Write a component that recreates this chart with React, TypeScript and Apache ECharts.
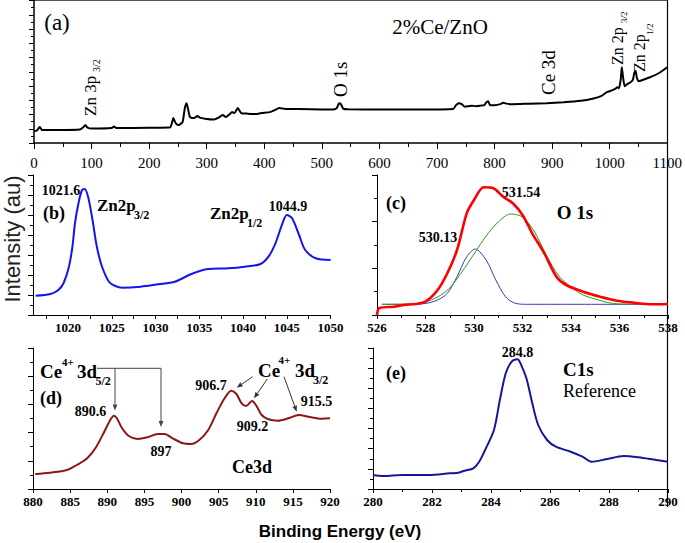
import React, { useEffect, useRef } from "react";
import * as echarts from "echarts";

// (a) survey spectrum
const surveyBE = [0, 5, 10, 14, 40, 80, 86, 89, 93, 100, 135, 139, 143, 200, 236, 240, 242, 246, 251, 258, 262, 265, 268, 271, 278, 284, 288, 300, 312, 322, 328, 333, 340, 344, 348, 354, 360, 370, 385, 395, 410, 418, 426, 433, 441, 460, 500, 520, 526, 530, 533, 537, 545, 600, 650, 700, 728, 733, 738, 743, 748, 760, 768, 776, 782, 786, 789, 792, 800, 810, 815, 820, 830, 860, 890, 920, 950, 970, 985, 995, 1005, 1010, 1013, 1016, 1019, 1021, 1023, 1026, 1030, 1035, 1040, 1043, 1045, 1047, 1050, 1056, 1070, 1085, 1100];
const surveyI = [12, 12.5, 16, 13, 13, 13.5, 16, 18, 15.5, 14.5, 15, 16.5, 15, 15.3, 15.5, 21, 25, 20, 18, 21, 35, 40, 33, 26, 25, 27, 25.5, 24, 23.5, 26, 28, 26, 29, 31, 30, 35, 30, 29.5, 29, 30, 31, 33, 35, 34.5, 34, 34, 33.7, 33.5, 35, 40, 39, 34.5, 33.8, 33.7, 33.5, 33.7, 34, 38, 40, 39, 36.5, 37.5, 37, 37.5, 38, 41, 42, 38, 38, 39, 40.5, 39.5, 39, 39.5, 40, 41, 42.5, 44.5, 47, 51, 53, 54.5, 56, 55, 63, 76, 67, 57, 59, 60.5, 63, 71, 72, 66, 62, 63, 66, 70, 76];

// (b) Zn 2p
const znBE = [1016.3, 1018.0, 1018.9, 1019.5, 1020.1, 1020.5, 1020.8, 1021.2, 1021.6, 1021.9, 1022.3, 1022.8, 1023.3, 1023.9, 1024.7, 1025.4, 1026.2, 1028.3, 1030.3, 1032.2, 1034.1, 1036.0, 1038.3, 1040.2, 1042.0, 1042.9, 1043.7, 1044.5, 1045.0, 1045.6, 1046.4, 1047.1, 1048.3, 1050];
const znI = [19.3, 21, 25, 32, 48, 68, 92, 112, 125, 126, 118, 95, 68, 48, 33, 29, 27.3, 28.3, 30.7, 33.3, 41, 46, 46.7, 48.3, 51, 58.3, 71.7, 91.7, 100, 96.7, 80, 65, 56.7, 55];

// (c) O 1s: measured, and the two fitted components
const oBE = [526.0, 526.1, 526.7, 527.1, 527.6, 528.0, 528.5, 528.9, 529.3, 529.7, 530.0, 530.4, 530.8, 531.2, 531.6, 532.0, 532.4, 532.9, 533.4, 533.8, 534.5, 535.2, 535.9, 536.6, 537.3, 538.0];
const oI = [0, 7, 8.3, 10, 11, 13.3, 25, 41.7, 65, 101.7, 115, 127.7, 126.7, 118.3, 111.7, 100, 81.7, 61.7, 38.3, 30, 23.3, 18.3, 14.3, 12.3, 10.7, 11];
const oFit1BE = [526.2, 527.5, 528.0, 528.5, 528.9, 529.3, 529.7, 530.05, 530.5, 530.9, 531.3, 531.7, 532.2, 538.0];
const oFit1I = [10.7, 10.7, 11.5, 15, 21.7, 38.3, 58.3, 66, 55, 35, 18.3, 11.7, 10.7, 10.7];
const oFit2BE = [526.2, 527.5, 528.0, 528.5, 529.0, 529.5, 530.0, 530.5, 531.0, 531.5, 532.0, 532.5, 533.0, 533.5, 534.0, 534.5, 535.0, 535.5, 536.0, 538.0];
const oFit2I = [10.7, 11, 13, 18, 27, 43, 61, 79, 93, 101, 98, 83, 59, 39, 28, 20, 16, 12.5, 11, 10.7];

// (d) Ce 3d
const ceBE = [880.3, 882.3, 884.6, 885.9, 887.3, 888.4, 889.5, 890.4, 890.9, 891.3, 892.0, 892.9, 894.1, 895.4, 896.8, 897.7, 898.8, 900.2, 901.3, 902.4, 903.6, 904.7, 905.8, 906.7, 907.4, 908.1, 908.7, 909.5, 910.1, 910.8, 911.7, 913.0, 914.4, 915.8, 917.1, 918.9, 920];
const ceI = [15, 16.3, 19, 24, 30.7, 40.7, 55.7, 69, 73.3, 70.7, 60.7, 53, 50, 51.7, 55, 55, 50.7, 45.7, 45, 49, 59, 75.7, 90.7, 98.3, 95, 85.7, 83, 88, 83, 74, 69.7, 68.3, 70.7, 74, 72.3, 70.3, 70.7];

// (e) C 1s
const cBE = [280, 280.35, 281.0, 281.9, 282.6, 282.9, 283.1, 283.4, 283.6, 283.8, 284.1, 284.3, 284.5, 284.7, 284.9, 285.0, 285.2, 285.4, 285.6, 285.9, 286.2, 286.7, 287.1, 287.4, 287.9, 288.5, 289.0, 289.6, 290];
const cI = [14, 13, 14, 14, 15.7, 16.3, 18.3, 20.7, 27.3, 39, 59, 89, 115.7, 127.3, 129.7, 125.7, 110.7, 85.7, 64, 49, 42.3, 37.3, 32.3, 27.3, 29.7, 33, 31.7, 29, 27.3];

// tick values
const bLabelValues = [1020, 1025, 1030, 1035, 1040, 1045, 1050];
const bTickValues = [1017.5, 1020, 1022.5, 1025, 1027.5, 1030, 1032.5, 1035, 1037.5, 1040, 1042.5, 1045, 1047.5, 1050];

const SERIF = "Liberation Serif";
const SANS = "Liberation Sans";

const zip = (xs: number[], ys: number[]) => xs.map((x, i) => [x, ys[i]]);

function txt(text: string, x: number, y: number, size: number, opts: any = {}) {
  return {
    type: "text",
    x,
    y,
    rotation: opts.rotation || 0,
    silent: true,
    style: {
      text,
      fill: opts.fill || "#000",
      fontFamily: opts.family || SERIF,
      fontSize: size,
      fontWeight: opts.bold ? "bold" : "normal",
      align: opts.align || "left",
      verticalAlign: "middle",
    },
  };
}

function arrow(x1: number, y1: number, x2: number, y2: number, color = "#333") {
  const ang = Math.atan2(y2 - y1, x2 - x1);
  const L = 6;
  const W = 2.4;
  const bx = x2 - L * Math.cos(ang);
  const by = y2 - L * Math.sin(ang);
  const px = -Math.sin(ang) * W;
  const py = Math.cos(ang) * W;
  return [
    { type: "line", silent: true, shape: { x1, y1, x2: bx, y2: by }, style: { stroke: color, lineWidth: 1 } },
    {
      type: "polygon",
      silent: true,
      shape: { points: [[x2, y2], [bx + px, by + py], [bx - px, by - py]] },
      style: { fill: color },
    },
  ];
}

function xAx(gi: number, min: number, max: number, extra: any = {}, big = false) {
  return {
    type: "value",
    gridIndex: gi,
    min,
    max,
    axisLine: { show: true, onZero: false, lineStyle: { color: "#000", width: big ? 1.5 : 1 } },
    axisTick: { show: true, length: big ? 6 : 4, lineStyle: { color: "#000" } },
    splitLine: { show: false },
    axisLabel: {
      color: "#000",
      fontFamily: SERIF,
      fontSize: big ? 15 : 13,
      fontWeight: big ? "normal" : "bold",
      margin: big ? 12 : 6,
      formatter: (v: number) => String(v),
    },
    ...extra,
  };
}

function yAx(gi: number, max: number, interval: number, big = false) {
  return {
    type: "value",
    gridIndex: gi,
    min: 0,
    max,
    interval,
    axisLine: { show: true, onZero: false, lineStyle: { color: "#000", width: big ? 1.5 : 1 } },
    axisTick: { show: true, length: 5, lineStyle: { color: "#000" } },
    minorTick: { show: true, splitNumber: 2, length: 3, lineStyle: { color: "#000" } },
    splitLine: { show: false },
    minorSplitLine: { show: false },
    axisLabel: { show: false },
  };
}

function lineSeries(xi: number, data: number[][], color: string, width: number, smooth: number | boolean = 0.3) {
  return {
    type: "line",
    xAxisIndex: xi,
    yAxisIndex: xi,
    data,
    symbol: "none",
    smooth,
    silent: true,
    lineStyle: { color, width },
  };
}

export default function App() {
  const ref = useRef<HTMLDivElement>(null);
  useEffect(() => {
    document.body.style.margin = "0";
    const chart = echarts.init(ref.current!, null, { renderer: "svg" });
    const graphics: any[] = [
      // frame lines of panel (a) and long right line
      { type: "line", silent: true, shape: { x1: 34, y1: 0.5, x2: 667.5, y2: 0.5 }, style: { stroke: "#555", lineWidth: 1 } },
      { type: "line", silent: true, shape: { x1: 667.5, y1: 0, x2: 667.5, y2: 507 }, style: { stroke: "#000", lineWidth: 1.2 } },
      // (a)
      txt("(a)", 57, 22, 23, { align: "center" }),
      txt("2%Ce/ZnO", 440, 27, 21, { align: "center" }),
      txt("Zn 3p", 90, 116, 17, { rotation: Math.PI / 2 }),
      txt("3/2", 96, 72, 10, { rotation: Math.PI / 2 }),
      txt("O 1s", 340.5, 97, 19, { rotation: Math.PI / 2 }),
      txt("Ce 3d", 548, 95, 19, { rotation: Math.PI / 2 }),
      txt("Zn 2p", 617.5, 65, 16, { rotation: Math.PI / 2 }),
      txt("3/2", 623.5, 23, 9, { rotation: Math.PI / 2 }),
      txt("Zn 2p", 639, 72, 16, { rotation: Math.PI / 2 }),
      txt("1/2", 649.5, 35, 9, { rotation: Math.PI / 2 }),
      // (b)
      txt("1021.6", 61, 190.5, 14, { bold: true, align: "center" }),
      txt("(b)", 54, 213, 18, { bold: true, align: "center" }),
      txt("Zn2p", 97, 205, 17, { bold: true }),
      txt("3/2", 134, 215, 12, { bold: true }),
      txt("Zn2p", 210, 213, 17, { bold: true }),
      txt("1/2", 247, 223, 12, { bold: true }),
      txt("1044.9", 288, 206, 14, { bold: true, align: "center" }),
      // (c)
      txt("(c)", 396, 203, 18, { bold: true, align: "center" }),
      txt("531.54", 521, 192.5, 14, { bold: true, align: "center" }),
      txt("530.13", 438, 237.5, 14, { bold: true, align: "center" }),
      txt("O 1s", 575, 212, 19, { bold: true, align: "center" }),
      // (d)
      txt("Ce", 40, 371, 19, { bold: true }),
      txt("4+", 62, 362, 11, { bold: true }),
      txt("3d", 77, 371.5, 19, { bold: true }),
      txt("5/2", 95.5, 381, 12, { bold: true }),
      txt("(d)", 40, 398, 18, { bold: true }),
      txt("890.6", 90.5, 411.7, 14, { bold: true, align: "center" }),
      txt("897", 161, 451.7, 14, { bold: true, align: "center" }),
      txt("906.7", 211, 385, 14, { bold: true, align: "center" }),
      txt("Ce", 258, 370, 19, { bold: true }),
      txt("4+", 278.5, 360, 11, { bold: true }),
      txt("3d", 295, 370.5, 19, { bold: true }),
      txt("3/2", 313, 380, 12, { bold: true }),
      txt("909.2", 252.5, 426.7, 14, { bold: true, align: "center" }),
      txt("915.5", 316.5, 401.7, 14, { bold: true, align: "center" }),
      txt("Ce3d", 252, 467, 18, { bold: true, align: "center" }),
      { type: "line", silent: true, shape: { x1: 97, y1: 368.3, x2: 161, y2: 368.3 }, style: { stroke: "#444", lineWidth: 1 } },
      ...arrow(115, 368.3, 115, 410.5, "#444"),
      ...arrow(161, 368.3, 161, 427, "#444"),
      ...arrow(252.7, 376.7, 236.7, 387.7, "#333"),
      ...arrow(267.3, 379, 254, 398.3, "#333"),
      ...arrow(284, 376.7, 296.7, 411.7, "#333"),
      // (e)
      txt("284.8", 517.5, 352, 14, { bold: true, align: "center" }),
      txt("(e)", 396, 373, 18, { bold: true, align: "center" }),
      txt("C1s", 563, 369, 19, { bold: true }),
      txt("Reference", 563, 391, 18),
      // axis titles
      txt("Intensity (au)", 12, 239, 22, { rotation: Math.PI / 2, align: "center", family: SANS, fill: "#222" }),
      txt("Binding Energy (eV)", 340, 531, 17, { bold: true, align: "center", family: SANS }),
    ];

    const option: any = {
      animation: false,
      backgroundColor: "#fff",
      grid: [
        { left: 34, top: 0.5, width: 633.5, height: 142.5 },
        { left: 33, top: 175, width: 297.6, height: 140 },
        { left: 377, top: 175, width: 291, height: 140 },
        { left: 33, top: 348, width: 297, height: 141 },
        { left: 373, top: 348, width: 295, height: 141 },
      ],
      xAxis: [
        xAx(0, 0, 1100, { interval: 100, minorTick: { show: true, splitNumber: 2, length: 4, lineStyle: { color: "#000" } } }, true),
        xAx(1, 1016, 1050, {}),
        xAx(2, 526, 538, { interval: 2, minorTick: { show: true, splitNumber: 2, length: 3, lineStyle: { color: "#000" } } }),
        xAx(3, 880, 920, { interval: 5 }),
        xAx(4, 280, 290, { interval: 2, minorTick: { show: true, splitNumber: 2, length: 3, lineStyle: { color: "#000" } } }),
      ],
      yAxis: [yAx(0, 143, 14.3, true), yAx(1, 140, 20), yAx(2, 140, 140 / 3), yAx(3, 141, 141 / 5), yAx(4, 141, 141 / 7)],
      series: [
        lineSeries(0, zip(surveyBE, surveyI), "#000", 2, 0.2),
        lineSeries(1, zip(znBE, znI), "#1414f0", 2),
        lineSeries(2, zip(oFit1BE, oFit1I), "#3a3ab0", 1),
        lineSeries(2, zip(oFit2BE, oFit2I), "#2a9a2a", 1),
        lineSeries(2, zip(oBE, oI), "#ff0000", 2.6),
        lineSeries(3, zip(ceBE, ceI), "#8e1515", 2),
        lineSeries(4, zip(cBE, cI), "#16169a", 2),
      ],
      graphic: { elements: graphics },
    };
    // custom tick positions for panel (b)
    option.xAxis[1].axisLabel.customValues = bLabelValues;
    option.xAxis[1].axisTick.customValues = bTickValues;
    chart.setOption(option);
    return () => chart.dispose();
  }, []);
  return <div ref={ref} style={{ width: 685, height: 543 }} />;
}
